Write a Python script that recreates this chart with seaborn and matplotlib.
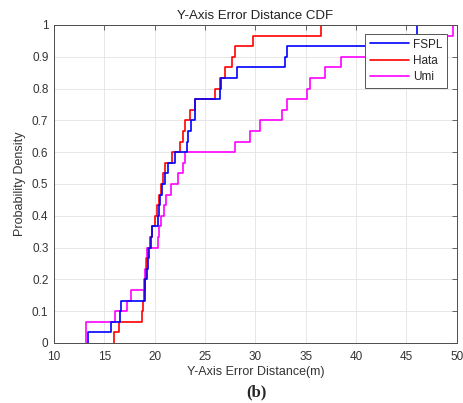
import numpy as np
import pandas as pd
import matplotlib
matplotlib.use("Agg")
import matplotlib.pyplot as plt
from matplotlib.lines import Line2D
from matplotlib.ticker import FuncFormatter, MultipleLocator
import seaborn as sns

# ---- data (error distances, 30 samples per model) ----
fspl = [13.4, 15.7, 16.6, 16.7, 19.0, 19.0, 19.2, 19.3, 19.4, 19.6,
        19.7, 20.3, 20.4, 20.5, 20.7, 21.0, 21.3, 22.0, 23.2, 23.3,
        23.6, 24.0, 24.0, 26.5, 26.6, 28.2, 33.0, 33.15, 46.1, 46.1]
hata = [16.0, 16.5, 18.7, 18.8, 18.9, 19.0, 19.1, 19.2, 19.3, 19.5,
        19.7, 20.0, 20.2, 20.4, 20.6, 20.8, 21.0, 21.7, 22.5, 22.8,
        23.0, 23.5, 24.0, 26.0, 26.5, 27.0, 27.7, 28.0, 29.8, 36.5]
umi = [13.2, 13.2, 16.1, 17.3, 17.7, 18.9, 19.0, 19.1, 19.2, 20.3,
       20.4, 20.6, 20.9, 21.1, 21.6, 22.3, 22.8, 23.0, 28.0, 29.5,
       30.5, 32.7, 33.1, 35.1, 35.4, 36.9, 38.5, 44.0, 47.0, 49.6]
models = ["FSPL", "Hata", "Umi"]
colors = ["blue", "red", "magenta"]
x_ticks = [10, 15, 20, 25, 30, 35, 40, 45, 50]

df = pd.concat([pd.DataFrame({"err": v, "model": n})
                for n, v in zip(models, [fspl, hata, umi])], ignore_index=True)

sns.set_theme(style="whitegrid")
plt.rcParams["font.family"] = ["Liberation Sans", "DejaVu Sans"]

fig = plt.figure(figsize=(4.63, 4.03), dpi=100)
ax = fig.add_axes([0.1166, 0.149, 0.8696, 0.789])

sns.ecdfplot(data=df, x="err", hue="model", hue_order=models,
             palette=dict(zip(models, colors)), ax=ax, linewidth=1.2,
             legend=False)

# start each step curve with a vertical rise at its first sample (no -inf tail)
for ln in ax.lines:
    xd, yd = ln.get_data()
    xd = np.array(xd, dtype=float)
    if np.isinf(xd[0]):
        xd[0] = xd[1]
        ln.set_data(xd, yd)

ax.set_xlim(10, 50)
ax.set_ylim(0, 1)
ax.set_xticks(x_ticks)
ax.yaxis.set_major_locator(MultipleLocator(0.1))
ax.yaxis.set_major_formatter(FuncFormatter(lambda v, p: f"{v:g}"))

ax.grid(True, color="#e3e3e3", linewidth=0.6)
for s in ax.spines.values():
    s.set_color("#4d4d4d")
    s.set_linewidth(0.7)
ax.tick_params(direction="in", length=3.5, width=0.6, color="#4d4d4d",
               top=True, right=True, labelsize=8.5, labelcolor="#333333")
ax.tick_params(axis="x", pad=6)
ax.tick_params(axis="y", pad=4)

ax.set_title("Y-Axis Error Distance CDF", fontsize=9.5, color="#222222", pad=4)
ax.set_xlabel("Y-Axis Error Distance(m)", fontsize=9, color="#333333", labelpad=2)
ax.set_ylabel("Probability Density", fontsize=9, color="#333333", labelpad=4)

handles = [Line2D([], [], color=c, lw=1.2) for c in colors]
leg = ax.legend(handles, models, loc="upper right",
                bbox_to_anchor=(0.977, 0.972), fontsize=8.5,
                frameon=True, fancybox=False, framealpha=1,
                edgecolor="#555555", handlelength=3.3, handletextpad=0.35,
                borderpad=0.4, labelspacing=0.35, borderaxespad=0)
leg.get_frame().set_linewidth(0.7)

fig.text(0.5545, 0.027, "(b)", ha="center", va="center", fontsize=12,
         fontweight="bold", family=["Liberation Serif", "DejaVu Serif"])

fig.savefig("out.png", dpi=100, facecolor="white")
